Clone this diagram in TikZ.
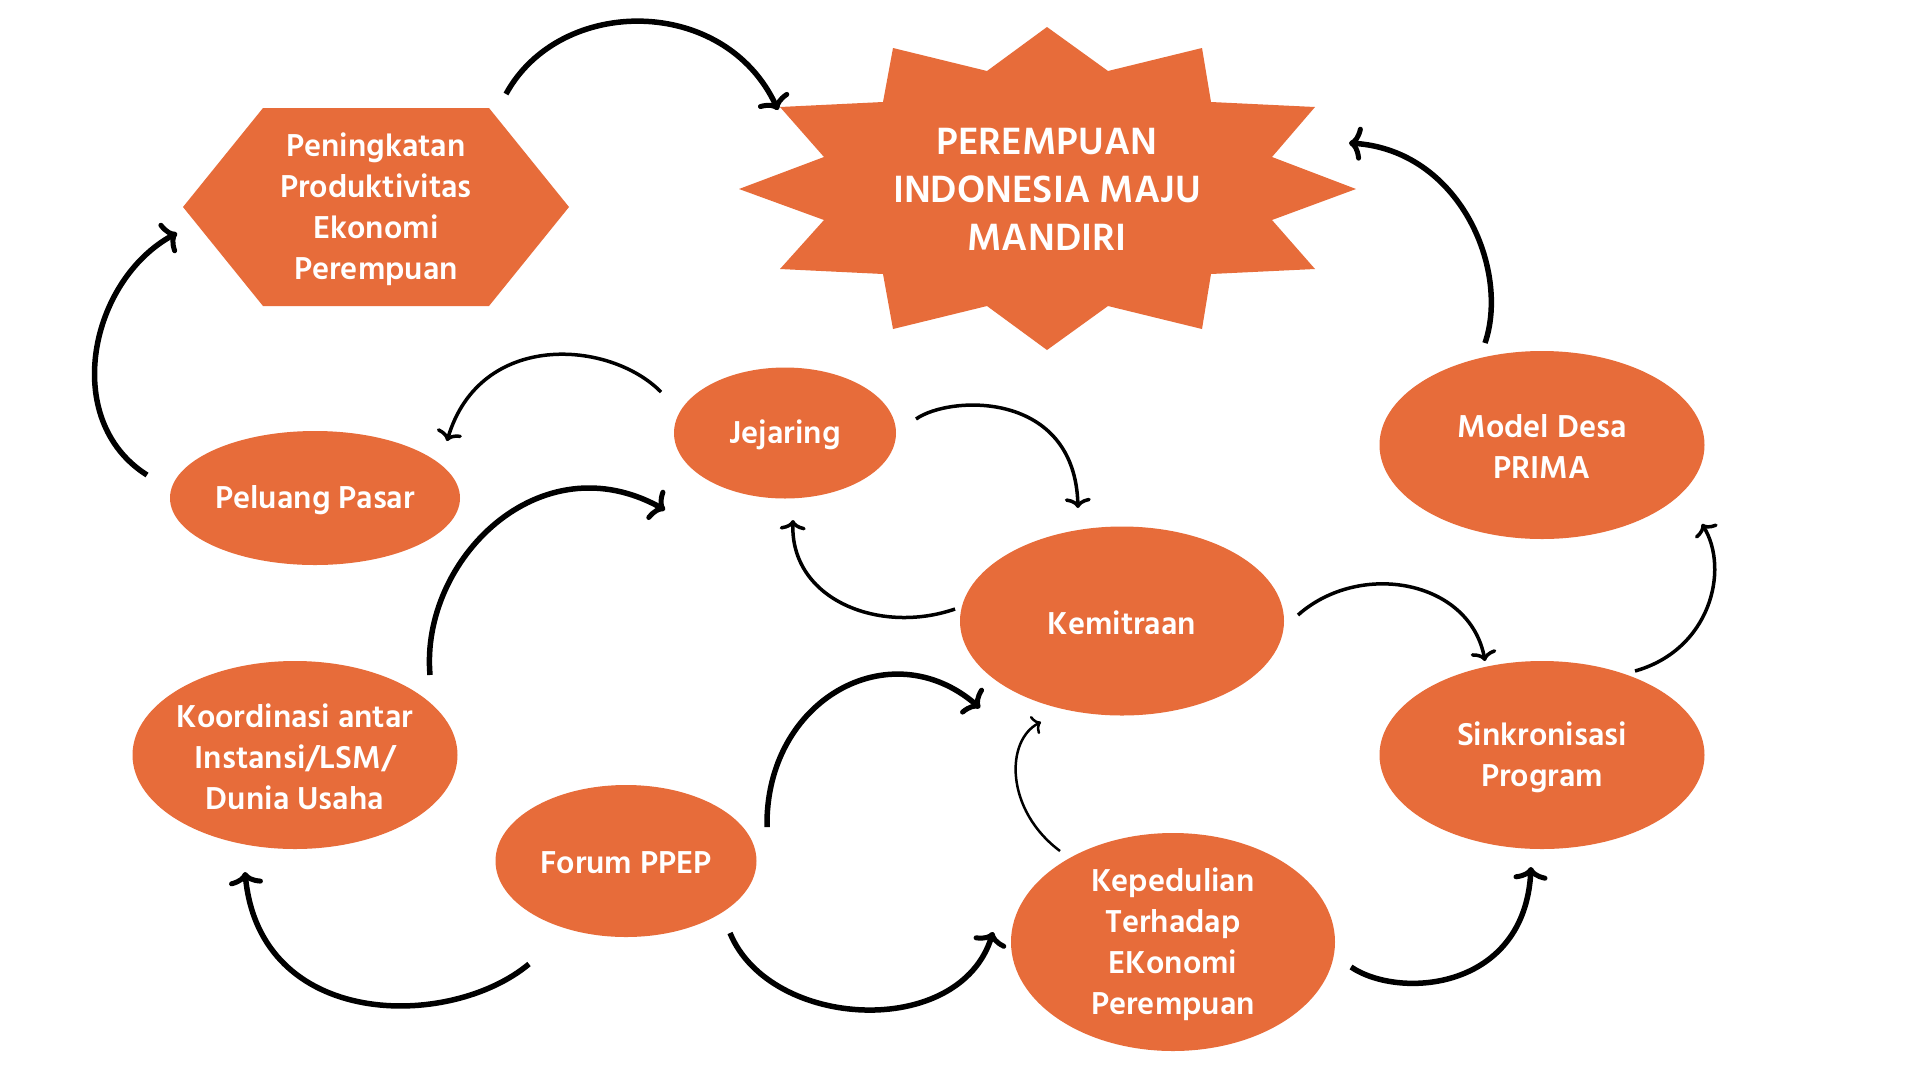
\documentclass[tikz,border=0pt]{standalone}
\usepackage{fontspec}
\setmainfont{Hind Siliguri}
\usetikzlibrary{arrows.meta,shapes.geometric}
\definecolor{orng}{HTML}{E76C3A}
\begin{document}
\begin{tikzpicture}[x=1pt,y=-1pt,
  oval/.style={ellipse, fill=orng, inner sep=0pt},
  lbl/.style={text=white, align=center, yshift=-2pt, font=\fontsize{32.5}{41}\selectfont\bfseries},
  biglbl/.style={text=white, align=center, font=\fontsize{39}{48}\selectfont\bfseries},
  conn/.style={line width=5.5pt, line cap=butt, -{Computer Modern Rightarrow[length=13pt,width=34pt,line width=5pt]}},
  thinconn/.style={line width=3.5pt, line cap=butt, -{Computer Modern Rightarrow[length=10pt,width=26pt,line width=3.5pt]}},
  hairconn/.style={line width=2.5pt, line cap=butt, -{Computer Modern Rightarrow[length=8pt,width=20pt,line width=2.5pt]}}]
\useasboundingbox (0,0) rectangle (1920,1080);
\fill[white] (0,0) rectangle (1920,1080);

% star
\fill[orng] (1047,27) -- (1108,71) -- (1202,48) -- (1211,102) -- (1315,107) -- (1272,157)
  -- (1356,189) -- (1272,220) -- (1315,269) -- (1211,274) -- (1202,329) -- (1108,306)
  -- (1047,350) -- (987,306) -- (893,329) -- (883,274) -- (780,269) -- (824,220)
  -- (739,189) -- (824,157) -- (780,107) -- (883,102) -- (893,48) -- (987,71) -- cycle;
\node[biglbl] (star) at (1047,189) {PEREMPUAN\\INDONESIA MAJU\\MANDIRI};

% hexagon
\fill[orng] (183,207) -- (263,108) -- (489,108) -- (569,207) -- (489,306) -- (263,306) -- cycle;
\node[lbl] (hex) at (376,207) {Peningkatan\\Produktivitas\\Ekonomi\\Perempuan};

% ovals
\node[oval, minimum width=290pt, minimum height=134pt] (pel) at (315,498) {};
\node[lbl] (pel-t) at (pel) {Peluang Pasar};
\node[oval, minimum width=222pt, minimum height=131pt] (jej) at (785,433) {};
\node[lbl] (jej-t) at (jej) {Jejaring};
\node[oval, minimum width=324pt, minimum height=189pt] (kem) at (1122,621) {};
\node[lbl] (kem-t) at (kem) {Kemitraan};
\node[oval, minimum width=325pt, minimum height=188pt] (mod) at (1542,445) {};
\node[lbl] (mod-t) at (mod) {Model Desa\\PRIMA};
\node[oval, minimum width=325pt, minimum height=188pt] (sin) at (1542,755) {};
\node[lbl] (sin-t) at (sin) {Sinkronisasi\\Program};
\node[oval, minimum width=325pt, minimum height=188pt] (koo) at (295,755) {};
\node[lbl] (koo-t) at (koo) {Koordinasi antar\\Instansi/LSM/\\Dunia Usaha};
\node[oval, minimum width=261pt, minimum height=152pt] (for) at (626,861) {};
\node[lbl] (for-t) at (for) {Forum PPEP};
\node[oval, minimum width=324pt, minimum height=218pt] (kep) at (1173,942) {};
\node[lbl] (kep-t) at (kep) {Kepedulian\\Terhadap\\EKonomi\\Perempuan};

% connector end points
\coordinate (a1s) at (506,94);   \coordinate (a1e) at (778,110);
\coordinate (a2s) at (1485,343); \coordinate (a2e) at (1349,143);
\coordinate (a3s) at (147,475);  \coordinate (a3e) at (177,233);
\coordinate (a4s) at (661,392);  \coordinate (a4e) at (447,441);
\coordinate (a5s) at (916,419);  \coordinate (a5e) at (1078,508);
\coordinate (a6s) at (955,609);  \coordinate (a6e) at (793,520);
\coordinate (a7s) at (430,675);  \coordinate (a7e) at (665,510);
\coordinate (a8s) at (529,964);  \coordinate (a8e) at (245,872);
\coordinate (a9s) at (767,827);  \coordinate (a9e) at (980,708);
\coordinate (a10s) at (730,933); \coordinate (a10e) at (993,932);
\coordinate (a11s) at (1060,851); \coordinate (a11e) at (1041,722);
\coordinate (a12s) at (1351,967); \coordinate (a12e) at (1531,867);
\coordinate (a13s) at (1298,615); \coordinate (a13e) at (1485,661);
\coordinate (a14s) at (1635,671); \coordinate (a14e) at (1702,524);

% connectors
\draw[conn] (a1s) .. controls (560,-5) and (725,-5) .. (a1e);
\draw[conn] (a2s) .. controls (1510,270) and (1460,150) .. (a2e);
\draw[conn] (a3s) .. controls (60,420) and (90,280) .. (a3e);
\draw[thinconn] (a4s) .. controls (610,340) and (480,330) .. (a4e);
\draw[thinconn] (a5s) .. controls (950,395) and (1075,390) .. (a5e);
\draw[thinconn] (a6s) .. controls (880,635) and (790,600) .. (a6e);
\draw[conn] (a7s) .. controls (420,560) and (540,440) .. (a7e);
\draw[conn] (a8s) .. controls (450,1030) and (260,1030) .. (a8e);
\draw[conn] (a9s) .. controls (765,700) and (890,630) .. (a9e);
\draw[conn] (a10s) .. controls (770,1030) and (960,1040) .. (a10e);
\draw[hairconn] (a11s) .. controls (1005,810) and (1005,740) .. (a11e);
\draw[conn] (a12s) .. controls (1400,1000) and (1525,990) .. (a12e);
\draw[thinconn] (a13s) .. controls (1360,560) and (1470,580) .. (a13e);
\draw[thinconn] (a14s) .. controls (1710,650) and (1730,570) .. (a14e);
\end{tikzpicture}
\end{document}
